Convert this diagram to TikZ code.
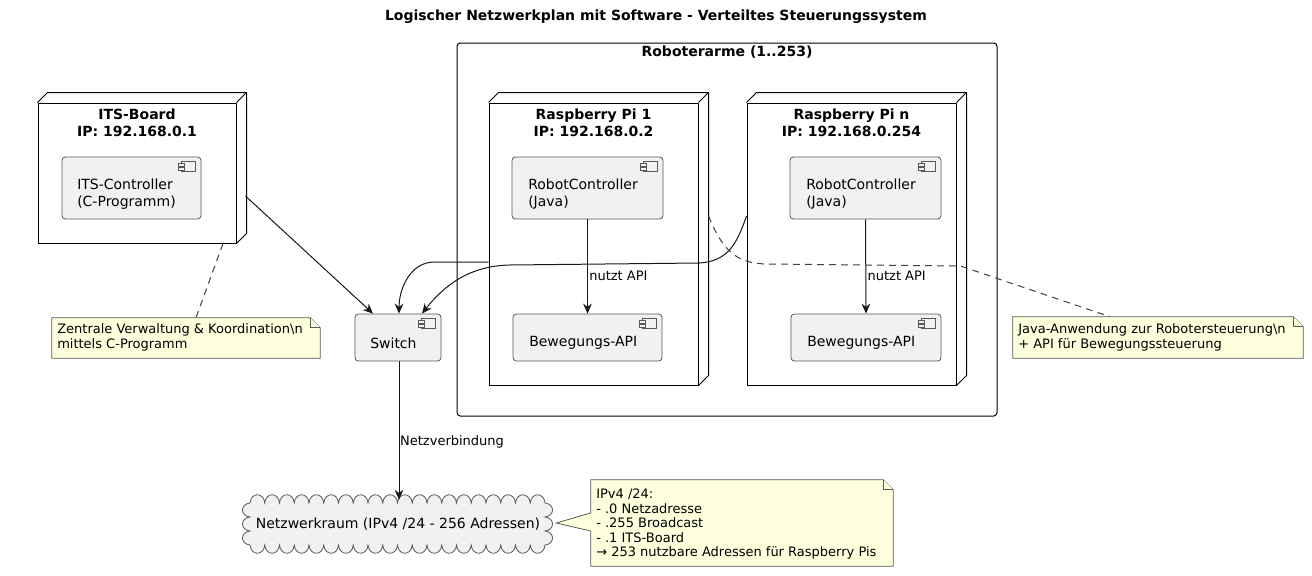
\documentclass[tikz,border=0pt]{standalone}
\usepackage{fontspec}
\setmainfont{DejaVu Sans}
\usetikzlibrary{arrows.meta,calc}
\definecolor{compfill}{HTML}{F1F1F1}
\definecolor{notefill}{HTML}{FEFFDD}
\definecolor{edgegray}{HTML}{181818}
\newcommand\compicon[1]{%
  \draw[iconst] ($(#1.north east)+(-20,5)$) rectangle ++(14,10);
  \draw[iconst] ($(#1.north east)+(-23,7)$) rectangle ++(6,2.5);
  \draw[iconst] ($(#1.north east)+(-23,11)$) rectangle ++(6,2.5);}
\newcommand\nodedepth[1]{%
  \draw[nodeline] (#1.north west) -- ++(10,-10) -- ($(#1.north east)+(10,-10)$) -- ($(#1.south east)+(10,-10)$) -- (#1.south east);
  \draw[nodeline] (#1.north east) -- ++(10,-10);}
\newcommand\noteshape[1]{%
  \draw[noteline] (#1.north west) -- ($(#1.north east)+(-10,0)$) -- ($(#1.north east)+(0,10)$) -- (#1.south east) -- (#1.south west) -- cycle;
  \draw[noteline] ($(#1.north east)+(-10,0)$) -- ++(0,10) -- ++(10,0);}
\tikzset{
  nodebox/.style={draw=black, line width=0.75pt, fill=white, inner sep=0pt},
  nodeline/.style={draw=black, line width=0.75pt, line join=bevel},
  comp/.style={draw=black!65, line width=0.6pt, fill=compfill, rounded corners=2.5pt, inner sep=0pt},
  iconst/.style={draw=black!65, line width=0.45pt, fill=compfill},
  ttl/.style={font=\bfseries\fontsize{10.5}{12.75}\selectfont, align=center, inner sep=0pt},
  ctext/.style={font=\fontsize{10.5}{12.75}\selectfont, align=left, inner sep=0pt, anchor=west},
  notebox/.style={inner sep=0pt},
  noteline/.style={draw=black!65, line width=0.6pt, fill=notefill},
  ntext/.style={font=\fontsize{9.75}{11.25}\selectfont, align=left, inner sep=0pt, anchor=north west},
  conn/.style={draw=edgegray, line width=0.75pt, -{Stealth[length=7.5pt,width=6.5pt,inset=2.5pt]}},
  dashconn/.style={draw=black!75, line width=0.75pt, dash pattern=on 5pt off 4pt},
  elabel/.style={font=\fontsize{9.75}{11}\selectfont, inner sep=0pt, anchor=west},
}
\begin{document}
\begin{tikzpicture}[x=0.75pt, y=-0.75pt]
\useasboundingbox[fill=white] (0,0) rectangle (1312,575);

% title
\node[ttl] (title) at (656,17) {Logischer Netzwerkplan mit Software - Verteiltes Steuerungssystem};

% Roboterarme frame
\node[draw=black, line width=0.75pt, rounded corners=2.5pt, minimum width=540*0.75pt, minimum height=373*0.75pt, inner sep=0pt] (frame) at (727,229.5) {};
\node[ttl] (frametitle) at (727,52) {Roboterarme (1..253)};

% ITS-Board node
\node[nodebox, minimum width=198*0.75pt, minimum height=140*0.75pt] (its) at (137,173) {};
\nodedepth{its}
\node[ttl] (itstitle) at (137,123) {ITS-Board\\IP: 192.168.0.1};
\node[comp, minimum width=139*0.75pt, minimum height=62*0.75pt] (itsc) at (131.5,188) {};
\compicon{itsc}
\node[ctext] (itsctext) at (77,194) {ITS-Controller\\(C-Programm)};

% Raspberry Pi 1
\node[nodebox, minimum width=209*0.75pt, minimum height=282*0.75pt] (pi1) at (593.5,244) {};
\nodedepth{pi1}
\node[ttl] (pi1title) at (593.5,123) {Raspberry Pi 1\\IP: 192.168.0.2};
\node[comp, minimum width=151*0.75pt, minimum height=62*0.75pt] (rc1) at (587.5,188) {};
\compicon{rc1}
\node[ctext] (rc1text) at (528,194) {RobotController\\(Java)};
\node[comp, minimum width=149*0.75pt, minimum height=47*0.75pt] (api1) at (587.5,337.5) {};
\compicon{api1}
\node[ctext] (api1text) at (529,343) {Bewegungs-API};

% Raspberry Pi n
\node[nodebox, minimum width=209*0.75pt, minimum height=282*0.75pt] (pin) at (851.5,244) {};
\nodedepth{pin}
\node[ttl] (pintitle) at (851.5,123) {Raspberry Pi n\\IP: 192.168.0.254};
\node[comp, minimum width=151*0.75pt, minimum height=62*0.75pt] (rcn) at (865.5,188) {};
\compicon{rcn}
\node[ctext] (rcntext) at (806,194) {RobotController\\(Java)};
\node[comp, minimum width=150*0.75pt, minimum height=47*0.75pt] (apin) at (866,337.5) {};
\compicon{apin}
\node[ctext] (apintext) at (807,343) {Bewegungs-API};

% Switch
\node[comp, minimum width=86*0.75pt, minimum height=47*0.75pt] (switch) at (398,337.5) {};
\compicon{switch}
\node[ctext] (switchtext) at (370,343) {Switch};

% Cloud
\draw[draw=black!65, line width=0.6pt, fill=compfill] (250,503)
  \foreach \i in {0,...,19} { .. controls ({250+14.75*\i+1},492) and ({250+14.75*(\i+1)-1},492) .. ({250+14.75*(\i+1)},503) }
  \foreach \i in {0,1,2} { .. controls (555,{503+14*\i+1}) and (555,{503+14*(\i+1)-1}) .. (545,{503+14*(\i+1)}) }
  \foreach \i in {0,...,19} { .. controls ({545-14.75*\i-1},556) and ({545-14.75*(\i+1)+1},556) .. ({545-14.75*(\i+1)},545) }
  \foreach \i in {0,1,2} { .. controls (240,{545-14*\i-1}) and (240,{545-14*(\i+1)+1}) .. (250,{545-14*(\i+1)}) }
  -- cycle;
\node[font=\fontsize{10.5}{12.75}\selectfont, inner sep=0pt, minimum width=300*0.75pt, minimum height=48*0.75pt] (cloud) at (398,524) {Netzwerkraum (IPv4 /24 - 256 Adressen)};

% Notes
\node[notebox, minimum width=268*0.75pt, minimum height=40*0.75pt] (itsnote) at (186,338) {};
\noteshape{itsnote}
\node[ntext] (itsnotetext) at (57,323) {Zentrale Verwaltung \& Koordination\textbackslash n\\mittels C-Programm};

\node[notebox, minimum width=290*0.75pt, minimum height=41*0.75pt] (javanote) at (1158,337.5) {};
\noteshape{javanote}
\node[ntext] (javanotetext) at (1018,323) {Java-Anwendung zur Robotersteuerung\textbackslash n\\+ API für Bewegungssteuerung};

\node[notebox, minimum width=302*0.75pt, minimum height=86*0.75pt] (ipnote) at (742,523) {};
\draw[noteline] (ipnote.north west) -- ($(ipnote.north east)+(-10,0)$) -- ($(ipnote.north east)+(0,10)$) -- (ipnote.south east) -- (ipnote.south west) -- ($(ipnote.west)+(0,8)$) -- ($(cloud.east)+(8,-1)$) -- ($(ipnote.west)+(0,-10)$) -- cycle;
\draw[noteline] ($(ipnote.north east)+(-10,0)$) -- ++(0,10) -- ++(10,0);
\node[ntext, font=\fontsize{9.75}{10.8}\selectfont] (ipnotetext) at (596,489) {IPv4 /24:\\- .0 Netzadresse\\- .255 Broadcast\\- .1 ITS-Board\\→ 253 nutzbare Adressen für Raspberry Pis};

% Connectors
\draw[conn] ($(its.east)+(9,23)$) -- ($(switch.north)+(-25,0)$);
\draw[conn] ($(pi1.west)+(0,18)$) -- ($(pi1.west)+(-54,18)$) to[out=180,in=90] ($(switch.north)+(1,0)$);
\draw[conn] ($(pin.west)+(0,-28)$) .. controls ($(pin.west)+(-10,1)$) and ($(pin.west)+(-19,17)$) .. ($(pin.west)+(-47,19)$) -- ($(pin.west)+(-237,21)$) .. controls ($(pin.west)+(-277,22)$) and ($(pin.west)+(-302,41)$) .. ($(switch.north)+(24,0)$);
\draw[conn] (rc1.south) -- (api1.north) node[elabel, pos=0.5, xshift=1pt, yshift=-7pt] (l1) {nutzt API};
\draw[conn] (rcn.south) -- (apin.north) node[elabel, pos=0.5, xshift=1pt, yshift=-7pt] (l2) {nutzt API};
\draw[conn] ($(switch.south)+(1,0)$) -- ($(cloud.north)+(1,0)$) node[elabel, pos=0.58, xshift=0.5pt, yshift=-0.5pt] (l3) {Netzverbindung};

\draw[dashconn] ($(its.south)+(86,0)$) -- ($(itsnote.north)+(10,0)$);
\draw[dashconn] ($(pi1.east)+(10,-28)$) .. controls ($(pi1.east)+(24,6)$) and ($(pi1.east)+(37,19)$) .. ($(pi1.east)+(67,20)$) -- ($(pi1.east)+(262,22)$) -- ($(javanote.north)+(-48,0)$);
\end{tikzpicture}
\end{document}
